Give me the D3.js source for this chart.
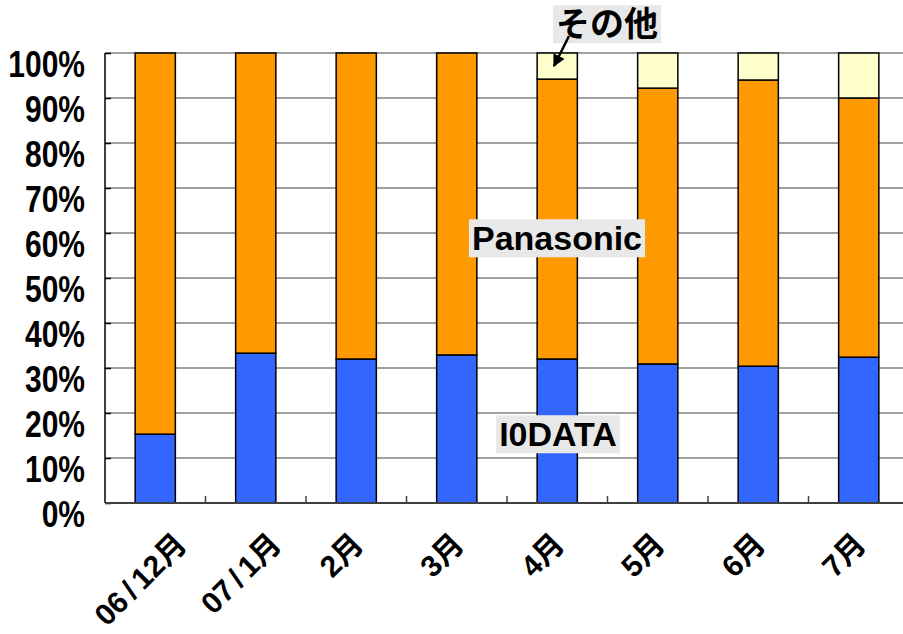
<!DOCTYPE html>
<html>
<head>
<meta charset="utf-8">
<script src="https://cdn.jsdelivr.net/npm/d3@7"></script>
<style>
  body { margin: 0; background: #fff; }
  svg text { font-family: "Liberation Sans", "Noto Sans CJK JP", sans-serif; font-weight: bold; }
</style>
</head>
<body>
<svg id="chart" width="903" height="634"></svg>
<script>
// data (percent of total)
var months    = ['06/12月', '07/1月', '2月', '3月', '4月', '5月', '6月', '7月']
var iodata    = [15.3, 33.3, 32.0, 32.9, 32.0, 30.9, 30.4, 32.4]
var panasonic = [84.7, 66.7, 68.0, 67.1, 62.2, 61.3, 63.6, 57.6]
var others    = [0, 0, 0, 0, 5.8, 7.8, 6.0, 10.0]
var yTicks    = [0, 10, 20, 30, 40, 50, 60, 70, 80, 90, 100]

var series = [
    { name: 'I0DATA',    values: iodata,    color: '#3366FF' },
    { name: 'Panasonic', values: panasonic, color: '#FF9900' },
    { name: 'その他',    values: others,    color: '#FFFFCC' }
]

var svg = d3.select('#chart')
var plot = { left: 105, right: 909, top: 53, bottom: 503 }

var x = d3.scaleBand().domain(months).range([plot.left, plot.right]).paddingInner(0.6).paddingOuter(0.3)
var y = d3.scaleLinear().domain([0, 100]).range([plot.bottom, plot.top])

// gridlines
svg.append('g').selectAll('line')
    .data(yTicks.filter(function(t) { return t > 0 }))
    .enter().append('line')
    .attr('x1', plot.left).attr('x2', 903)
    .attr('y1', function(t) { return y(t) }).attr('y2', function(t) { return y(t) })
    .attr('stroke', '#808080').attr('stroke-width', 1.5)

// stacked bars
var rows = months.map(function(m, i) {
    var r = { month: m }
    series.forEach(function(s) { r[s.name] = s.values[i] })
    return r
})
var stack = d3.stack().keys(series.map(function(s) { return s.name }))(rows)

svg.append('g').selectAll('g')
    .data(stack)
    .enter().append('g')
    .attr('fill', function(d, i) { return series[i].color })
    .selectAll('rect')
    .data(function(d) { return d.filter(function(p) { return p[1] - p[0] > 0 }) })
    .enter().append('rect')
    .attr('x', function(p) { return x(p.data.month) })
    .attr('width', x.bandwidth())
    .attr('y', function(p) { return y(p[1]) })
    .attr('height', function(p) { return y(p[0]) - y(p[1]) })
    .attr('stroke', '#000').attr('stroke-width', 1.5)

// y axis, ticks pointing inward
var yAxis = d3.axisRight(y).tickValues(yTicks).tickSize(6).tickFormat('')
svg.append('g').attr('transform', 'translate(' + plot.left + ',0)').call(yAxis)
    .call(function(g) { g.select('.domain').remove() })
    .selectAll('line').attr('stroke', '#000').attr('stroke-width', 1.5)
svg.append('line').attr('x1', plot.left).attr('x2', plot.left).attr('y1', plot.top).attr('y2', plot.bottom)
    .attr('stroke', '#000').attr('stroke-width', 1.5)

// tick labels are a bit taller than wide in the original
svg.append('g').selectAll('text')
    .data(yTicks)
    .enter().append('text')
    .attr('transform', function(t) { return 'translate(85,' + (y(t) + 24) + ') scale(1,1.22)' })
    .attr('text-anchor', 'end').attr('font-size', 30)
    .text(function(t) { return t + '%' })

// x axis: baseline + category boundary ticks
svg.append('line').attr('x1', plot.left).attr('x2', 903).attr('y1', plot.bottom).attr('y2', plot.bottom)
    .attr('stroke', '#404040').attr('stroke-width', 2)
svg.append('g').selectAll('line')
    .data(months.slice(1))
    .enter().append('line')
    .attr('x1', function(m) { return x(m) - x.step() * 0.3 })
    .attr('x2', function(m) { return x(m) - x.step() * 0.3 })
    .attr('y1', plot.bottom).attr('y2', plot.bottom - 7)
    .attr('stroke', '#404040').attr('stroke-width', 1.5)

// rotated month labels: box centred a little left of the bar, top near y=528
svg.append('g').selectAll('text')
    .data(months)
    .enter().append('text')
    .attr('text-anchor', 'end').attr('font-size', 30)
    .each(function(m) {
        var t = d3.select(this)
        var parts = m.split('/')
        if (parts.length == 2) {
            t.append('tspan').text(parts[0])
            t.append('tspan').attr('dx', 5).text('/')
            t.append('tspan').attr('dx', 5).text(parts[1])
        } else t.text(m)
        var px = x(m) + x.bandwidth() / 2, py = 560
        t.attr('transform', 'translate(' + px + ',' + py + ') rotate(-45)')
        var r = this.getBoundingClientRect()
        var cx = (r.left + r.right) / 2
        px += (x(m) + x.bandwidth() / 2 - 15) - cx
        py += 527 - r.top
        t.attr('transform', 'translate(' + px + ',' + py + ') rotate(-45)')
    })

// series labels with grey boxes
var labels = [
    { text: 'Panasonic', x: 557, y: 238 },
    { text: 'I0DATA',    x: 558, y: 434 },
    { text: 'その他',    x: 607, y: 24 }
]
labels.forEach(function(l) {
    var g = svg.append('g')
    var t = g.append('text').attr('x', l.x).attr('y', l.y).attr('dy', '0.36em')
        .attr('text-anchor', 'middle').attr('font-size', 34).text(l.text)
    var b = t.node().getBBox()
    g.insert('rect', 'text').attr('x', b.x - 3).attr('y', b.y)
        .attr('width', b.width + 6).attr('height', b.height).attr('fill', '#E8E8E8')
})

// arrow from その他 label to the 4月 bar
svg.append('defs').append('marker')
    .attr('id', 'head').attr('viewBox', '0 0 10 10').attr('refX', 9).attr('refY', 5)
    .attr('markerWidth', 5).attr('markerHeight', 5).attr('orient', 'auto')
    .append('path').attr('d', 'M0,0 L10,5 L0,10 z').attr('fill', '#000')
svg.append('line').attr('x1', 569).attr('y1', 36).attr('x2', 554).attr('y2', 66)
    .attr('stroke', '#000').attr('stroke-width', 2.5).attr('marker-end', 'url(#head)')
</script>
</body>
</html>
